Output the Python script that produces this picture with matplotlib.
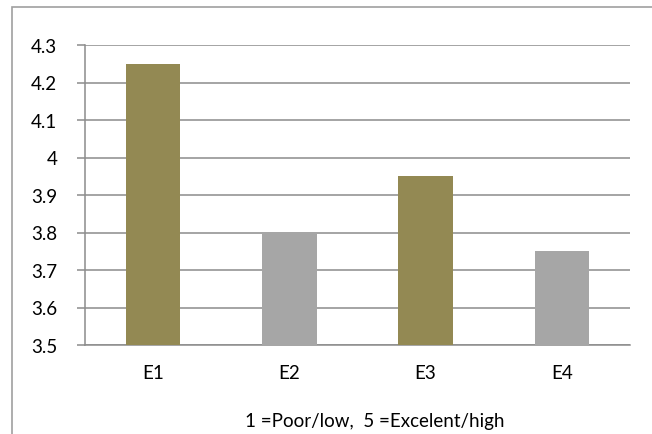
import matplotlib
matplotlib.use("Agg")
import matplotlib.pyplot as plt
from matplotlib.patches import Rectangle

categories = ["E1", "E2", "E3", "E4"]
values = [4.25, 3.80, 3.95, 3.75]
colors = ["#938953", "#A6A6A6", "#938953", "#A6A6A6"]
yticks = [3.5, 3.6, 3.7, 3.8, 3.9, 4.0, 4.1, 4.2, 4.3]
ytick_labels = ["3.5", "3.6", "3.7", "3.8", "3.9", "4", "4.1", "4.2", "4.3"]
xlabel = "1 =Poor/low,  5 =Excelent/high"

plt.rcParams['font.family'] = ['Lato', 'DejaVu Sans']
FS = 13.5

W, H = 652, 435
fig = plt.figure(figsize=(W/100, H/100), dpi=100)
ax = fig.add_axes([85/W, 1-346/H, (630-85)/W, (346-46)/H])

x = list(range(len(categories)))
ax.bar(x, values, width=0.4, color=colors, bottom=0, zorder=3)
ax.set_xlim(-0.5, 3.5)
ax.set_ylim(3.5, 4.3)
ax.set_yticks(yticks)
ax.set_yticklabels(ytick_labels, fontsize=FS)
ax.set_xticks(x)
ax.set_xticklabels(categories, fontsize=FS)
ax.grid(axis='y', color='#8C8C8C', linewidth=1.1, zorder=0)
for s in ['top', 'right']:
    ax.spines[s].set_visible(False)
for s in ['left', 'bottom']:
    ax.spines[s].set_color('#8C8C8C')
    ax.spines[s].set_linewidth(1.1)
ax.tick_params(axis='y', length=6, color='#8C8C8C', width=1.1, pad=14)
ax.tick_params(axis='x', length=0, pad=14)
fig.text(375/W, 1-422/H, xlabel, fontsize=FS, ha='center', va='center')

fig.patches.append(Rectangle((12/W, -0.1), 1.2, 1-8/H+0.1, transform=fig.transFigure,
                             fill=False, edgecolor='#A0A0A0', linewidth=1.2))
fig.savefig("out.png", dpi=100)
